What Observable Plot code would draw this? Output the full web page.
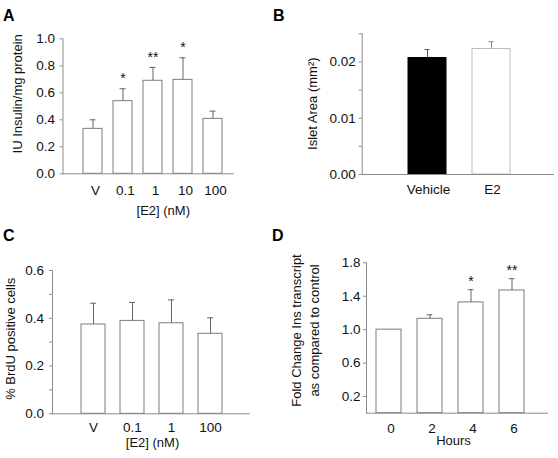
<!DOCTYPE html>
<html><head><meta charset="utf-8">
<script src="https://cdn.jsdelivr.net/npm/d3@7"></script>
<script src="https://cdn.jsdelivr.net/npm/@observablehq/plot@0.6"></script>
<style>
body{margin:0;background:#fff;}
#fig{position:relative;width:558px;height:458px;font-family:"Liberation Sans",Arial,Helvetica,sans-serif;}
.panel{position:absolute;}
.letter{position:absolute;font-weight:bold;font-size:16px;line-height:16px;color:#000;}
</style></head><body>
<div id="fig"></div>
<script>
// Panel A: insulin content
const aCats = ["V", "0.1", "1", "10", "100"];
const aMeans = [0.333, 0.538, 0.689, 0.696, 0.407];
const aSem = [0.067, 0.092, 0.099, 0.163, 0.057];
const aSig = ["", "*", "**", "*", ""];
const aTicks = [0, 0.2, 0.4, 0.6, 0.8, 1.0];

// Panel B: islet area
const bCats = ["Vehicle", "E2"];
const bMeans = [0.0207, 0.0223];
const bSem = [0.0015, 0.0013];
const bTicks = [0, 0.01, 0.02];
const bMinor = [0.005, 0.015, 0.025];

// Panel C: BrdU
const cCats = ["V", "0.1", "1", "100"];
const cMeans = [0.374, 0.389, 0.379, 0.335];
const cSem = [0.089, 0.077, 0.098, 0.067];
const cTicks = [0, 0.2, 0.4, 0.6];
const cMinor = [0.1, 0.3, 0.5];

// Panel D: Ins transcript
const dCats = ["0", "2", "4", "6"];
const dMeans = [1.0, 1.13, 1.326, 1.469];
const dSem = [0, 0.048, 0.152, 0.141];
const dSig = ["", "", "*", "**"];
const dTicks = [0.2, 0.6, 1.0, 1.4, 1.8];

const FONT = '"Liberation Sans", Arial, Helvetica, sans-serif';
const FS = 13;      // axis titles
const TFS = 13.5;   // tick labels
const AXIS = "#8c8c8c";
const INK = "#111";

function rows(cats, means, sem, sig) {
  return cats.map((c, i) => ({cat: c, v: means[i], e: sem[i], s: sig ? sig[i] : ""}));
}

function panel(cfg) {
  const data = rows(cfg.cats, cfg.means, cfg.sem, cfg.sig);
  const withErr = data.filter(d => d.e > 0);
  const bw = cfg.step * (1 - cfg.pad);
  const capInset = (bw - 6) / 2;
  const marks = [
    Plot.barY(data, {x: "cat", y: "v", fill: cfg.fill || "white", stroke: cfg.stroke || "#7d7d7d", strokeWidth: 1}),
    Plot.ruleX(withErr, {x: "cat", y1: "v", y2: d => d.v + d.e, stroke: cfg.errStroke || "#666"}),
    Plot.tickY(withErr, {x: "cat", y: d => d.v + d.e, insetLeft: capInset, insetRight: capInset, stroke: cfg.errStroke || "#666"}),
    Plot.text(data.filter(d => d.s), {x: "cat", y: d => d.v + d.e, text: "s", dy: cfg.starDy, fontSize: 14, lineAnchor: "middle", fill: INK}),
    Plot.frame({anchor: "left", stroke: AXIS}),
    Plot.frame({anchor: "bottom", stroke: AXIS}),
    Plot.axisY({ticks: cfg.yTicks, tickFormat: d3.format(cfg.yFmt), tickSize: 3, tickPadding: cfg.yPad, label: null, stroke: AXIS, fill: INK, fontSize: TFS}),
    Plot.axisX({tickSize: 0, tickPadding: cfg.xPad, label: null, dx: cfg.xDx || 0, fill: INK, fontSize: TFS}),
    Plot.text([cfg.yTitle], {text: d => d, frameAnchor: "left", textAnchor: "middle", lineAnchor: "middle", rotate: -90, dx: cfg.yTitleDx, dy: cfg.yTitleDy, fill: INK, fontSize: FS, lineHeight: cfg.lineHeight || 1})
  ];
  if (cfg.yMinor) marks.push(Plot.axisY({ticks: cfg.yMinor, tickFormat: () => "", tickSize: 3, label: null, stroke: AXIS}));
  if (cfg.xTitle) marks.push(Plot.text([cfg.xTitle], {text: d => d, frameAnchor: "bottom", textAnchor: "middle", lineAnchor: "middle", dx: cfg.xTitleDx, dy: cfg.xTitleDy, fill: INK, fontSize: FS}));
  const [ml, mr, mt, mb] = cfg.margins;
  return Plot.plot({
    width: cfg.width, height: cfg.height,
    marginLeft: ml, marginRight: mr, marginTop: mt, marginBottom: mb,
    style: {fontFamily: FONT, fontSize: FS + "px", color: INK, background: "transparent", overflow: "visible"},
    x: {type: "band", domain: cfg.cats, range: cfg.xRange, padding: cfg.pad},
    y: {domain: cfg.yDomain},
    marks
  });
}

const panels = [
  {left: 0, top: 0, letter: "A", lx: 3, ly: 8, cfg: {
    cats: aCats, means: aMeans, sem: aSem, sig: aSig,
    width: 279, height: 225, margins: [62.5, 46, 38.3, 51.7],
    xRange: [71.6, 234], pad: 0.37, step: 30.25,
    yDomain: [0, 1], yTicks: aTicks, yFmt: ".1f", yPad: 5,
    xPad: 11.5, xDx: 2.5, starDy: -10,
    yTitle: "IU Insulin/mg protein", yTitleDx: -45, yTitleDy: -12.5,
    xTitle: "[E2] (nM)", xTitleDx: 15, xTitleDy: 37.5
  }},
  {left: 279, top: 0, letter: "B", lx: 273, ly: 8, cfg: {
    cats: bCats, means: bMeans, sem: bSem,
    width: 279, height: 225, margins: [82.7, 5, 33.3, 51],
    xRange: [102.5, 258.5], pad: 0.4, step: 65,
    yDomain: [0, 0.025], yTicks: bTicks, yMinor: bMinor, yFmt: ".2f", yPad: 3.5,
    xPad: 10, xDx: 1,
    fill: d => d.cat === "Vehicle" ? "#000" : "#fff",
    stroke: d => d.cat === "Vehicle" ? "#000" : "#bdbdbd",
    errStroke: d => d.cat === "Vehicle" ? "#555" : "#8a8a8a",
    yTitle: "Islet Area (mm²)", yTitleDx: -49.2, yTitleDy: -0.5
  }},
  {left: 0, top: 225, letter: "C", lx: 3, ly: 228, cfg: {
    cats: cCats, means: cMeans, sem: cSem,
    width: 279, height: 233, margins: [52, 30, 45, 44.7],
    xRange: [64.35, 237.8], pad: 0.39, step: 39.5,
    yDomain: [0, 0.6], yTicks: cTicks, yMinor: cMinor, yFmt: ".1f", yPad: 5.5,
    xPad: 9, xDx: 0,
    yTitle: "% BrdU positive cells", yTitleDx: -42, yTitleDy: -3.4,
    xTitle: "[E2] (nM)", xTitleDx: 1.5, xTitleDy: 29
  }},
  {left: 279, top: 225, letter: "D", lx: 272, ly: 228, cfg: {
    cats: dCats, means: dMeans, sem: dSem, sig: dSig,
    width: 279, height: 233, margins: [87, 11, 37.3, 45.3],
    xRange: [79.5, 263.2], pad: 0.395, step: 41.8,
    yDomain: [0, 1.8], yTicks: dTicks, yFmt: ".1f", yPad: 3,
    xPad: 10.5, xDx: 2, starDy: -8.5,
    yTitle: "Fold Change Ins transcript\nas compared to control", yTitleDx: -62, yTitleDy: -7.5, lineHeight: 1.385,
    xTitle: "Hours", xTitleDx: -3.5, xTitleDy: 27.5
  }}
];

const fig = document.getElementById("fig");
for (const p of panels) {
  const div = document.createElement("div");
  div.className = "panel";
  div.style.left = p.left + "px";
  div.style.top = p.top + "px";
  div.appendChild(panel(p.cfg));
  fig.appendChild(div);
  const lab = document.createElement("div");
  lab.className = "letter";
  lab.style.left = p.lx + "px";
  lab.style.top = p.ly + "px";
  lab.textContent = p.letter;
  fig.appendChild(lab);
}
</script>
</body></html>
